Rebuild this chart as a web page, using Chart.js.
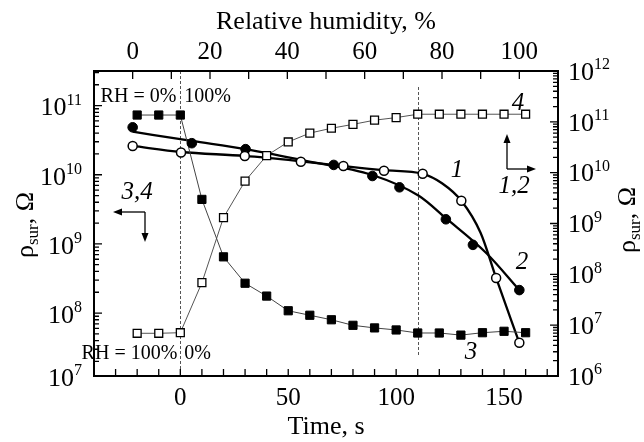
<!DOCTYPE html>
<html>
<head>
<meta charset="utf-8">
<script src="https://cdn.jsdelivr.net/npm/chart.js@4"></script>
<style>
  html, body { margin: 0; padding: 0; background: #fff; }
</style>
</head>
<body>
<canvas id="chart" width="644" height="442"></canvas>
<script>
// curves 3, 4 : time axis (bottom) / left axis
const timeS = [-20, -10, 0, 10, 20, 30, 40, 50, 60, 70, 80, 90, 100, 110, 120, 130, 140, 150, 160];
const rho3 = [7.3e10, 7.3e10, 7.3e10, 4.4e9, 6.5e8, 2.7e8, 1.76e8, 1.08e8, 9.3e7, 8.0e7, 6.65e7, 6.1e7, 5.7e7, 5.15e7, 5.15e7, 4.8e7, 5.2e7, 5.45e7, 5.2e7];
const rho4 = [5.1e7, 5.1e7, 5.2e7, 2.75e8, 2.4e9, 8.1e9, 1.89e10, 2.98e10, 4.0e10, 4.7e10, 5.35e10, 6.15e10, 6.7e10, 7.5e10, 7.5e10, 7.5e10, 7.5e10, 7.5e10, 7.5e10];

// curves 1, 2 : relative humidity axis (top) / right axis
const rh1 = [0, 12.5, 29, 43.5, 54.5, 65, 75, 85, 94, 100];
const rho1 = [3.35e10, 2.5e10, 2.13e10, 1.64e10, 1.35e10, 1.09e10, 9.5e9, 2.8e9, 8.5e7, 4.5e6];
const rh2 = [0, 15.3, 29.2, 52, 62, 69, 81, 88, 100];
const rho2 = [7.8e10, 3.8e10, 2.9e10, 1.42e10, 8.6e9, 5.15e9, 1.21e9, 3.8e8, 4.9e7];

// smooth fitted curves drawn through 1 and 2
const fitRh1 = [0, 12.5, 29, 43.5, 54.5, 65, 75, 80, 85, 90, 94, 100];
const fitRho1 = [3.35e10, 2.55e10, 2.13e10, 1.67e10, 1.35e10, 1.12e10, 9.5e9, 6.2e9, 2.8e9, 6.5e8, 8.5e7, 4.5e6];
const fitRh2 = [0, 15.3, 29.2, 43.7, 62, 74, 81, 91.5, 100];
const fitRho2 = [6.4e10, 4.2e10, 2.9e10, 1.77e10, 9.0e9, 3.5e9, 1.27e9, 2.6e8, 4.9e7];

// tick labels
const timeTicks = [0, 50, 100, 150];
const rhTicks = [0, 20, 40, 60, 80, 100];
const leftExp = [7, 8, 9, 10, 11];
const rightExp = [6, 7, 8, 9, 10, 11, 12];

const SERIF = '"Liberation Serif", "Times New Roman", serif';

function pts(xs, ys) {
  return xs.map((x, i) => ({ x: x, y: ys[i] }));
}

function drawPow(ctx, exp, x, y, align) {
  ctx.textBaseline = 'middle';
  ctx.font = '26px ' + SERIF;
  const baseW = ctx.measureText('10').width;
  ctx.font = '16px ' + SERIF;
  const supW = ctx.measureText(String(exp)).width;
  let x0 = align === 'right' ? x - baseW - supW : x;
  ctx.textAlign = 'left';
  ctx.font = '26px ' + SERIF;
  ctx.fillText('10', x0, y);
  ctx.font = '16px ' + SERIF;
  ctx.fillText(String(exp), x0 + baseW, y - 8);
}

function drawRho(ctx, cx, cy) {
  ctx.save();
  ctx.translate(cx, cy);
  ctx.rotate(-Math.PI / 2);
  ctx.textBaseline = 'alphabetic';
  ctx.textAlign = 'left';
  ctx.font = '26px ' + SERIF;
  const w1 = ctx.measureText('\u03c1').width;
  const w3 = ctx.measureText(', \u03a9').width;
  ctx.font = '17px ' + SERIF;
  const w2 = ctx.measureText('sur').width;
  let x = -(w1 + w2 + w3) / 2;
  ctx.font = '26px ' + SERIF;
  ctx.fillText('\u03c1', x, 8);
  ctx.font = '17px ' + SERIF;
  ctx.fillText('sur', x + w1, 13);
  ctx.font = '26px ' + SERIF;
  ctx.fillText(', \u03a9', x + w1 + w2, 8);
  ctx.restore();
}

function arrow(ctx, x1, y1, x2, y2) {
  const a = Math.atan2(y2 - y1, x2 - x1);
  ctx.beginPath();
  ctx.moveTo(x1, y1);
  ctx.lineTo(x2 - 6 * Math.cos(a), y2 - 6 * Math.sin(a));
  ctx.stroke();
  ctx.beginPath();
  ctx.moveTo(x2, y2);
  ctx.lineTo(x2 - 9 * Math.cos(a) + 3.5 * Math.sin(a), y2 - 9 * Math.sin(a) - 3.5 * Math.cos(a));
  ctx.lineTo(x2 - 9 * Math.cos(a) - 3.5 * Math.sin(a), y2 - 9 * Math.sin(a) + 3.5 * Math.cos(a));
  ctx.closePath();
  ctx.fill();
}

const decor = {
  id: 'decor',
  beforeDatasetsDraw(chart) {
    const ctx = chart.ctx;
    const { top, bottom } = chart.chartArea;
    const sx = chart.scales.x;
    ctx.save();
    ctx.strokeStyle = '#555';
    ctx.lineWidth = 1;
    ctx.setLineDash([3, 2]);
    let x0 = Math.round(sx.getPixelForValue(0)) + 0.5;
    ctx.beginPath();
    ctx.moveTo(x0, top);
    ctx.lineTo(x0, bottom);
    ctx.stroke();
    let x1 = Math.round(sx.getPixelForValue(110)) + 0.5;
    ctx.beginPath();
    ctx.moveTo(x1, top + 16);
    ctx.lineTo(x1, bottom - 19);
    ctx.stroke();
    ctx.restore();
  },
  afterDraw(chart) {
    const ctx = chart.ctx;
    const { left, right, top, bottom } = chart.chartArea;
    const sx = chart.scales.x, sr = chart.scales.xRH;
    const yl = chart.scales.yL, yr = chart.scales.yR;
    ctx.save();
    ctx.strokeStyle = '#000';
    ctx.fillStyle = '#000';

    // frame
    ctx.lineWidth = 2;
    ctx.strokeRect(left, top, right - left, bottom - top);

    // ticks
    ctx.lineWidth = 1.3;
    ctx.beginPath();
    for (let t = -30; t <= 170; t += 10) {
      const x = sx.getPixelForValue(t);
      ctx.moveTo(x, bottom); ctx.lineTo(x, bottom - 7);
    }
    for (let r = 0; r <= 100; r += 10) {
      const x = sr.getPixelForValue(r);
      ctx.moveTo(x, top); ctx.lineTo(x, top + 8);
    }
    for (let e = 7; e <= 11; e++) {
      for (let m = 1; m <= 9; m++) {
        const v = m * Math.pow(10, e);
        if (v <= yl.min || v >= yl.max) continue;
        const y = yl.getPixelForValue(v);
        const len = m === 1 ? 8 : 5;
        ctx.moveTo(left, y); ctx.lineTo(left + len, y);
      }
    }
    for (let e = 6; e <= 11; e++) {
      for (let m = 1; m <= 9; m++) {
        const v = m * Math.pow(10, e);
        if (v <= yr.min || v >= yr.max) continue;
        const y = yr.getPixelForValue(v);
        const len = m === 1 ? 8 : 5;
        ctx.moveTo(right, y); ctx.lineTo(right - len, y);
      }
    }
    ctx.stroke();

    // tick labels
    ctx.textAlign = 'center';
    ctx.textBaseline = 'middle';
    ctx.font = '25px ' + SERIF;
    timeTicks.forEach(t => ctx.fillText(String(t), sx.getPixelForValue(t), 398));
    rhTicks.forEach(r => ctx.fillText(String(r), sr.getPixelForValue(r), 52));
    leftExp.forEach(e => {
      const y = Math.min(yl.getPixelForValue(Math.pow(10, e)), bottom);
      drawPow(ctx, e, 82, y + 3, 'right');
    });
    rightExp.forEach(e => {
      const y = yr.getPixelForValue(Math.pow(10, e));
      drawPow(ctx, e, 568, y + 2, 'left');
    });

    // axis titles
    ctx.textAlign = 'center';
    ctx.textBaseline = 'middle';
    ctx.font = '26px ' + SERIF;
    ctx.fillText('Relative humidity, %', (left + right) / 2, 22);
    ctx.fillText('Time, s', (left + right) / 2, 427);
    drawRho(ctx, 25, 225);
    drawRho(ctx, 627, 220);

    // RH switch notes
    const xs0 = sx.getPixelForValue(0);
    ctx.font = '20px ' + SERIF;
    ctx.textAlign = 'right';
    ctx.fillText('RH = 0%', xs0 - 4, 97);
    ctx.fillText('RH = 100%', xs0 - 3, 354);
    ctx.textAlign = 'left';
    ctx.fillText('100%', xs0 + 4, 97);
    ctx.fillText('0%', xs0 + 4, 354);

    // curve numbers
    ctx.font = 'italic 25px ' + SERIF;
    ctx.textAlign = 'center';
    ctx.fillText('1', 457, 170);
    ctx.fillText('2', 522, 262);
    ctx.fillText('3', 471, 352);
    ctx.fillText('4', 518, 103);
    ctx.fillText('1,2', 514, 186);
    ctx.fillText('3,4', 137, 192);

    // axis pointers
    ctx.lineWidth = 1.3;
    arrow(ctx, 507, 169, 507, 134);
    arrow(ctx, 507, 169, 536, 169);
    arrow(ctx, 145, 212, 113, 212);
    arrow(ctx, 145, 212, 145, 242);
    ctx.restore();
  }
};

const chart = new Chart(document.getElementById('chart').getContext('2d'), {
  type: 'line',
  data: {
    datasets: [
      {
        label: '1',
        data: pts(rh1, rho1),
        xAxisID: 'xRH', yAxisID: 'yR',
        showLine: false,
        pointStyle: 'circle', pointRadius: 4.5,
        pointBackgroundColor: '#fff', pointBorderColor: '#000', pointBorderWidth: 1.5,
        order: 0
      },
      {
        label: '2',
        data: pts(rh2, rho2),
        xAxisID: 'xRH', yAxisID: 'yR',
        showLine: false,
        pointStyle: 'circle', pointRadius: 4.8,
        pointBackgroundColor: '#000', pointBorderColor: '#000', pointBorderWidth: 1,
        order: 0
      },
      {
        label: 'fit 1',
        data: pts(fitRh1, fitRho1),
        xAxisID: 'xRH', yAxisID: 'yR',
        borderColor: '#000', borderWidth: 2.3,
        cubicInterpolationMode: 'monotone',
        pointRadius: 0,
        order: 2
      },
      {
        label: 'fit 2',
        data: pts(fitRh2, fitRho2),
        xAxisID: 'xRH', yAxisID: 'yR',
        borderColor: '#000', borderWidth: 2.3,
        cubicInterpolationMode: 'monotone',
        pointRadius: 0,
        order: 2
      },
      {
        label: '3',
        data: pts(timeS, rho3),
        xAxisID: 'x', yAxisID: 'yL',
        borderColor: '#444', borderWidth: 1,
        pointStyle: 'rect', pointRadius: 5.8,
        pointBackgroundColor: '#000', pointBorderColor: '#000', pointBorderWidth: 1,
        order: 1
      },
      {
        label: '4',
        data: pts(timeS, rho4),
        xAxisID: 'x', yAxisID: 'yL',
        borderColor: '#555', borderWidth: 1,
        pointStyle: 'rect', pointRadius: 5.6,
        pointBackgroundColor: '#fff', pointBorderColor: '#000', pointBorderWidth: 1.3,
        order: 1
      }
    ]
  },
  options: {
    responsive: false,
    animation: false,
    devicePixelRatio: 1,
    layout: { padding: { left: 94, right: 86, top: 71, bottom: 66 } },
    plugins: {
      legend: { display: false },
      tooltip: { enabled: false }
    },
    scales: {
      x: { type: 'linear', min: -40, max: 175, display: false },
      xRH: { type: 'linear', axis: 'x', position: 'top', min: -10, max: 110, display: false },
      yL: { type: 'logarithmic', axis: 'y', position: 'left', min: Math.pow(10, 7.09), max: Math.pow(10, 11.5), display: false },
      yR: { type: 'logarithmic', axis: 'y', position: 'right', min: 1e6, max: 1e12, display: false }
    }
  },
  plugins: [decor]
});
</script>
</body>
</html>
